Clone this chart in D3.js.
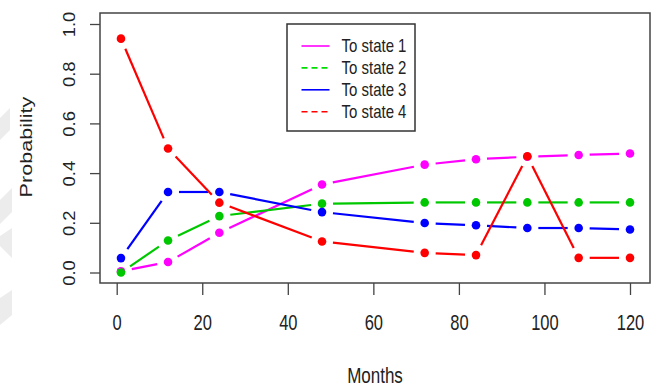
<!DOCTYPE html>
<html>
<head>
<meta charset="utf-8">
<script src="https://cdn.jsdelivr.net/npm/d3@7"></script>
<style>
  body { margin: 0; background: #fff; }
  text { font-family: "Liberation Sans", Arial, sans-serif; fill: #222; }
</style>
</head>
<body>
<div id="chart"></div>
<script>
// transition probabilities by month
var months = [1, 12, 24, 48, 72, 84, 96, 108, 120];
var state1 = [0.005, 0.042, 0.160, 0.354, 0.434, 0.456, 0.466, 0.473, 0.479];
var state2 = [0.000, 0.129, 0.227, 0.277, 0.282, 0.282, 0.282, 0.282, 0.282];
var state3 = [0.058, 0.324, 0.324, 0.243, 0.199, 0.190, 0.179, 0.179, 0.173];
var state4 = [0.941, 0.499, 0.281, 0.125, 0.079, 0.070, 0.468, 0.059, 0.059];
var seriesNames = ["To state 1", "To state 2", "To state 3", "To state 4"];
var xTicks = [0, 20, 40, 60, 80, 100, 120];
var yTicks = [0, 0.2, 0.4, 0.6, 0.8, 1.0];

(function() {
  var width = 653, height = 388;
  var box = { left: 100, top: 13, right: 650, bottom: 283 };

  var svg = d3.select("#chart")
    .append("svg")
    .attr("width", width)
    .attr("height", height);

  // faint watermark chevrons at left edge
  var marks = [
    [[0, 118], [10, 108], [10, 130], [0, 140]],
    [[0, 200], [12, 188], [12, 212], [0, 224]],
    [[0, 236], [12, 228], [12, 258], [0, 246]],
    [[0, 298], [12, 290], [12, 315], [0, 325]]
  ];
  svg.selectAll(".wm")
    .data(marks)
    .enter().append("polygon")
    .attr("points", function(d) { return d.join(" "); })
    .attr("fill", "#ececec");

  var xPositionScale = d3.scaleLinear().domain([0, 120]).range([116.7, 630]);
  var yPositionScale = d3.scaleLinear().domain([0, 1]).range([272.5, 24]);

  // x axis
  var xAxis = d3.axisBottom(xPositionScale)
    .tickValues(xTicks)
    .tickSize(12)
    .tickSizeOuter(0);
  var gx = svg.append("g")
    .attr("class", "axis x-axis")
    .attr("transform", "translate(0," + box.bottom + ")")
    .call(xAxis);
  gx.select(".domain").remove();
  gx.selectAll("line").attr("stroke", "#444").attr("stroke-width", 1.3);
  gx.selectAll("text")
    .attr("y", 0).attr("dy", null)
    .attr("transform", "translate(0,47) scale(1,1.38)")
    .style("font-size", "16.5px")
    .style("font-family", "'Liberation Sans', Arial, sans-serif")
    .attr("fill", "#222");

  // y axis
  var yAxis = d3.axisLeft(yPositionScale)
    .tickValues(yTicks)
    .tickFormat(d3.format(".1f"))
    .tickSize(10)
    .tickSizeOuter(0);
  var gy = svg.append("g")
    .attr("class", "axis y-axis")
    .attr("transform", "translate(" + box.left + ",0)")
    .call(yAxis);
  gy.select(".domain").remove();
  gy.selectAll("line").attr("stroke", "#444").attr("stroke-width", 1.3);
  gy.selectAll("text")
    .attr("x", 0).attr("y", 0).attr("dy", null)
    .attr("text-anchor", "middle")
    .attr("transform", "translate(-25,0) rotate(-90) scale(1.15,1)")
    .style("font-size", "16px")
    .style("font-family", "'Liberation Sans', Arial, sans-serif")
    .attr("fill", "#222");

  // plot box
  svg.append("rect")
    .attr("x", box.left)
    .attr("y", box.top)
    .attr("width", box.right - box.left)
    .attr("height", box.bottom - box.top)
    .attr("fill", "none")
    .attr("stroke", "#444")
    .attr("stroke-width", 1.5);

  // axis titles
  svg.append("text")
    .attr("text-anchor", "middle")
    .attr("transform", "translate(375,383) scale(1,1.3)")
    .style("font-size", "17px")
    .text("Months");

  svg.append("text")
    .attr("text-anchor", "middle")
    .attr("transform", "translate(32,147) rotate(-90) scale(1.35,1)")
    .style("font-size", "16px")
    .text("Probability");

  // type = "b" style: line segments with gaps round each point
  var allSeries = [state1, state2, state3, state4];
  var plotColors = ["#ff00ff", "#00c800", "#0000ff", "#ff0000"];
  var gap = 11;

  allSeries.forEach(function(values, i) {
    var pts = months.map(function(m, j) {
      return [xPositionScale(m), yPositionScale(values[j])];
    });
    var segs = [];
    for (var j = 0; j < pts.length - 1; j++) {
      var dx = pts[j + 1][0] - pts[j][0], dy = pts[j + 1][1] - pts[j][1];
      var len = Math.sqrt(dx * dx + dy * dy);
      if (len <= 2 * gap) continue;
      var ux = dx / len, uy = dy / len;
      segs.push([pts[j][0] + ux * gap, pts[j][1] + uy * gap,
                 pts[j + 1][0] - ux * gap, pts[j + 1][1] - uy * gap]);
    }
    var g = svg.append("g").attr("class", "series-" + (i + 1));
    g.selectAll("line")
      .data(segs)
      .enter().append("line")
      .attr("x1", function(d) { return d[0]; })
      .attr("y1", function(d) { return d[1]; })
      .attr("x2", function(d) { return d[2]; })
      .attr("y2", function(d) { return d[3]; })
      .attr("stroke", plotColors[i])
      .attr("stroke-width", 2.2);
    g.selectAll("circle")
      .data(pts)
      .enter().append("circle")
      .attr("cx", function(d) { return d[0]; })
      .attr("cy", function(d) { return d[1]; })
      .attr("r", 4.3)
      .attr("fill", plotColors[i]);
  });

  // legend
  var legendColors = ["#ff00ff", "#00dd00", "#0000ff", "#ff0000"];
  var legendDash = [null, "6,4", null, "6,4"];
  var legend = svg.append("g").attr("class", "legend");
  legend.append("rect")
    .attr("x", 287).attr("y", 24)
    .attr("width", 128).attr("height", 107)
    .attr("fill", "#fff")
    .attr("stroke", "#333")
    .attr("stroke-width", 1.5);

  var rowScale = d3.scalePoint().domain(seriesNames).range([46, 111.7]);
  var rows = legend.selectAll(".row")
    .data(seriesNames)
    .enter().append("g")
    .attr("class", "row")
    .attr("transform", function(d) { return "translate(0," + rowScale(d) + ")"; });
  rows.append("line")
    .attr("x1", 301.5).attr("x2", 329.5)
    .attr("y1", 0).attr("y2", 0)
    .attr("stroke", function(d, i) { return legendColors[i]; })
    .attr("stroke-width", 1.6)
    .attr("stroke-dasharray", function(d, i) { return legendDash[i]; });
  rows.append("text")
    .attr("transform", "translate(341.5,6.4) scale(1,1.2)")
    .style("font-size", "15px")
    .text(function(d) { return d; });
})();
</script>
</body>
</html>
